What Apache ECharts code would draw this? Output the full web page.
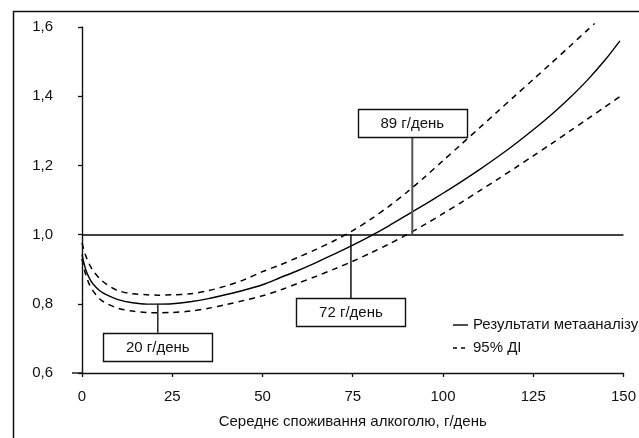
<!DOCTYPE html>
<html>
<head>
<meta charset="utf-8">
<script src="https://cdn.jsdelivr.net/npm/echarts@6/dist/echarts.min.js"></script>
<style>
  html, body { margin: 0; padding: 0; background: #fff; }
  #chart { width: 639px; height: 438px; }
</style>
</head>
<body>
<div id="chart"></div>
<script>
// ---- Data ----
const doseMean  = [0, 1, 2, 3, 5, 7, 10, 14, 18, 21, 25, 30, 35, 40, 45, 50, 55, 60, 65, 70, 75, 80, 85, 90, 95, 100, 105, 110, 115, 120, 125, 130, 135, 140, 145, 149];
const meanRR    = [0.942, 0.900, 0.875, 0.858, 0.837, 0.825, 0.812, 0.803, 0.799, 0.799, 0.800, 0.806, 0.815, 0.827, 0.840, 0.855, 0.876, 0.897, 0.920, 0.944, 0.9695, 0.9965, 1.0255, 1.0565, 1.0875, 1.1195, 1.1525, 1.187, 1.2235, 1.262, 1.303, 1.3465, 1.394, 1.4465, 1.506, 1.56];

const doseUpper = [0, 1, 2, 3, 5, 7, 10, 14, 18, 21, 25, 30, 35, 40, 45, 50, 55, 60, 65, 70, 75, 80, 85, 90, 95, 100, 105, 110, 115, 120, 125, 130, 135, 140, 142];
const upperCI   = [0.976, 0.940, 0.915, 0.897, 0.872, 0.855, 0.838, 0.829, 0.826, 0.825, 0.826, 0.829, 0.838, 0.852, 0.870, 0.893, 0.913, 0.935, 0.958, 0.983, 1.0115, 1.0445, 1.0815, 1.1225, 1.167, 1.2135, 1.2605, 1.3075, 1.3545, 1.4015, 1.4485, 1.4955, 1.543, 1.591, 1.61];

const doseLower = [0, 1, 2, 3, 5, 7, 10, 14, 18, 21, 25, 30, 35, 40, 45, 50, 55, 60, 65, 70, 75, 80, 85, 90, 95, 100, 105, 110, 115, 120, 125, 130, 135, 140, 145, 150];
const lowerCI   = [0.93, 0.885, 0.857, 0.838, 0.813, 0.800, 0.787, 0.779, 0.775, 0.774, 0.775, 0.779, 0.787, 0.798, 0.81, 0.823, 0.84, 0.860, 0.880, 0.901, 0.923, 0.947, 0.9725, 1.0, 1.0295, 1.0605, 1.0925, 1.1255, 1.159, 1.193, 1.2275, 1.2625, 1.298, 1.334, 1.370, 1.406];

const xTicks = [0, 25, 50, 75, 100, 125, 150];
const yTicks = [0.6, 0.8, 1.0, 1.2, 1.4, 1.6];
const referenceRR = 1.0;

const annotDose   = [21, 74.5, 91.5];
const annotLabels = ['20 г/день', '72 г/день', '89 г/день'];

const seriesNames = ['Результати метааналізу', '95% ДІ'];
const xAxisTitle = 'Середнє споживання алкоголю, г/день';

// ---- Layout / style (not data) ----
const FONT = "'Liberation Sans', Arial, sans-serif";
const FS = 15;
const DASH = [6, 5];
const annotLayout = [
  { from: 0.80, to: 0.716, boxY: 0.675, color: '#222', width: 1.5 },
  { from: 1.0,  to: 0.817, boxY: 0.776, color: '#111', width: 1.5 },
  { from: 1.0,  to: 1.282, boxY: 1.3225, color: '#555', width: 2 }
];

const pairs = (xs, ys) => xs.map((x, i) => [x, ys[i]]);

const chart = echarts.init(document.getElementById('chart'), null, { renderer: 'canvas' });

const lineSeries = (name, xs, ys, type) => ({
  name, type: 'line', data: pairs(xs, ys),
  smooth: 0.3, symbol: 'none', clip: false,
  lineStyle: { color: '#000', width: type === 'solid' ? 1.4 : 1.5, type },
  itemStyle: { color: '#000' }
});

const mainSeries = lineSeries(seriesNames[0], doseMean, meanRR, 'solid');
mainSeries.markLine = {
  silent: true, symbol: ['none', 'none'], label: { show: false },
  lineStyle: { color: '#000', width: 1.5, type: 'solid' },
  data: [{ yAxis: referenceRR }]
};

const option = {
  animation: false,
  backgroundColor: '#fff',
  textStyle: { fontFamily: FONT },
  grid: { left: 82, right: 4, top: 27, bottom: 65 },
  xAxis: {
    type: 'value', min: xTicks[0], max: xTicks[xTicks.length - 1], interval: 25,
    axisLine: { lineStyle: { color: '#111', width: 1.4 } },
    axisTick: { show: true, length: 4, lineStyle: { color: '#111', width: 1.3 } },
    axisLabel: { fontFamily: FONT, fontSize: FS, color: '#111', margin: 16 },
    splitLine: { show: false },
    name: xAxisTitle, nameLocation: 'middle', nameGap: 41,
    nameTextStyle: { fontFamily: FONT, fontSize: FS, color: '#111' }
  },
  yAxis: {
    type: 'value', min: yTicks[0], max: yTicks[yTicks.length - 1], interval: 0.2,
    axisLine: { show: true, lineStyle: { color: '#111', width: 1.4 } },
    axisTick: { show: true, length: 4, lineStyle: { color: '#111', width: 1.3 } },
    axisLabel: { fontFamily: FONT, fontSize: FS, color: '#111', margin: 29,
      formatter: v => v.toFixed(1).replace('.', ',') },
    splitLine: { show: false }
  },
  series: [
    mainSeries,
    lineSeries(seriesNames[1], doseUpper, upperCI, DASH),
    lineSeries(seriesNames[1], doseLower, lowerCI, DASH)
  ]
};
chart.setOption(option);

// Annotations, positioned through the chart's own scales
const graphics = [];
graphics.push({
  type: 'rect', z: 0, silent: true,
  shape: { x: 13.5, y: 11.5, width: 900, height: 700 },
  style: { fill: null, stroke: '#111', lineWidth: 1.5 }
});
const origin = chart.convertToPixel({ gridIndex: 0 }, [xTicks[0], yTicks[0]]);
graphics.push({
  type: 'line', z: 10, silent: true,
  shape: { x1: origin[0] - 10, y1: origin[1], x2: origin[0], y2: origin[1] },
  style: { stroke: '#111', lineWidth: 1.4 }
});
annotDose.forEach((d, i) => {
  const L = annotLayout[i];
  const p0 = chart.convertToPixel({ gridIndex: 0 }, [d, L.from]);
  const p1 = chart.convertToPixel({ gridIndex: 0 }, [d, L.to]);
  const pc = chart.convertToPixel({ gridIndex: 0 }, [d, L.boxY]);
  graphics.push({
    type: 'line', z: 20, silent: true,
    shape: { x1: p0[0], y1: p0[1], x2: p1[0], y2: p1[1] },
    style: { stroke: L.color, lineWidth: L.width }
  });
  const w = 109, h = 28;
  graphics.push({
    type: 'rect', z: 21, silent: true,
    shape: { x: Math.round(pc[0] - w / 2) + 0.5, y: Math.round(pc[1] - h / 2) + 0.5, width: w, height: h },
    style: { fill: '#fff', stroke: '#111', lineWidth: 1.4 }
  });
  graphics.push({
    type: 'text', z: 22, silent: true,
    x: pc[0], y: pc[1] + 1,
    style: { text: annotLabels[i], fontFamily: FONT, fontSize: FS, fill: '#111',
      align: 'center', verticalAlign: 'middle' }
  });
});
// legend
const legendItems = [
  { name: seriesNames[0], dash: null, y: 325 },
  { name: seriesNames[1], dash: [4, 4], y: 348 }
];
legendItems.forEach(it => {
  graphics.push({
    type: 'line', z: 30, silent: true,
    shape: { x1: 453, y1: it.y, x2: 468, y2: it.y },
    style: { stroke: '#000', lineWidth: 1.4, lineDash: it.dash }
  });
  graphics.push({
    type: 'text', z: 30, silent: true,
    x: 473, y: it.y,
    style: { text: it.name, fontFamily: FONT, fontSize: FS, fill: '#111',
      align: 'left', verticalAlign: 'middle' }
  });
});
chart.setOption({ graphic: graphics });
</script>
</body>
</html>
